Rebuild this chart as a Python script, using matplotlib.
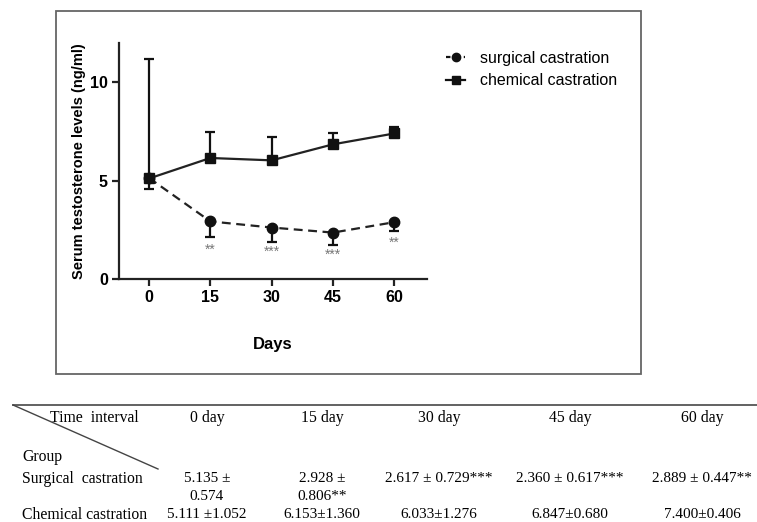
import numpy as np
import matplotlib.pyplot as plt
from matplotlib.patches import Rectangle
from matplotlib.lines import Line2D

days = [0, 15, 30, 45, 60]
surg_mean = [5.135, 2.928, 2.617, 2.360, 2.889]
surg_err = [0.574, 0.806, 0.729, 0.617, 0.447]     # drawn downward only
chem_mean = [5.111, 6.153, 6.033, 6.847, 7.400]
chem_err = [6.1, 1.30, 1.21, 0.60, 0.34]           # drawn upward only (as plotted)
stars = ['', '**', '***', '***', '**']
star_y = [None, 1.5, 1.38, 1.22, 1.84]

col_heads = ['0 day', '15 day', '30 day', '45 day', '60 day']
surg_cells = [['5.135 \u00b1', '0.574'], ['2.928 \u00b1', '0.806**'],
              ['2.617 \u00b1 0.729***'], ['2.360 \u00b1 0.617***'], ['2.889 \u00b1 0.447**']]
chem_cells = ['5.111 \u00b11.052', '6.153\u00b11.360', '6.033\u00b11.276',
              '6.847\u00b10.680', '7.400\u00b10.406']

W, H = 757, 522


def px(x, y):
    # pixel position -> figure fraction
    return x / W, 1 - y / H


plt.rcParams['font.family'] = ['Liberation Sans', 'DejaVu Sans']
fig = plt.figure(figsize=(W / 100, H / 100), dpi=100)

# outer frame around the chart
fig.patches.append(Rectangle(px(56, 374), 585 / W, 363 / H, transform=fig.transFigure,
                             fill=False, edgecolor='#666666', linewidth=1.3))

ax = fig.add_axes([119 / W, 1 - 279 / H, (427 - 119) / W, (279 - 43) / H])
for s in ['top', 'right']:
    ax.spines[s].set_visible(False)
for s in ['left', 'bottom']:
    ax.spines[s].set_linewidth(1.6)
    ax.spines[s].set_color('#222222')

zeros = np.zeros(len(days))
ax.errorbar(days, surg_mean, yerr=[surg_err, zeros], fmt='o', color='#111111',
            markersize=7.5, capsize=3.5, elinewidth=1.6, capthick=1.6, zorder=3)
ax.plot(days, surg_mean, '--', color='#222222', linewidth=1.6, dashes=(4, 2.5), zorder=2)
ax.errorbar(days, chem_mean, yerr=[zeros, chem_err], fmt='s', color='#111111',
            markersize=7.5, capsize=3.5, elinewidth=1.6, capthick=1.6, zorder=4)
ax.plot(days, chem_mean, '-', color='#222222', linewidth=1.6, zorder=2)

for d, st, sy in zip(days, stars, star_y):
    if st:
        ax.text(d, sy, st, ha='center', va='center', fontsize=10, color='#777777')

ax.set_xlim(-7.35, 68)
ax.set_ylim(0, 12)
ax.set_xticks(days)
ax.set_yticks([0, 5, 10])
ax.tick_params(direction='out', length=5, width=1.6, labelsize=11.5, color='#222222', pad=3)
for lab in ax.get_xticklabels() + ax.get_yticklabels():
    lab.set_fontweight('bold')
ax.set_ylabel('Serum testosterone levels (ng/ml)', fontsize=10.5, fontweight='bold')
ax.yaxis.set_label_coords(-0.107, 0.5)
ax.set_xlabel('Days', fontsize=12, fontweight='bold', labelpad=23)

handles = [Line2D([], [], color='#111111', linestyle='--', marker='o', markersize=6,
                  linewidth=1.6, dashes=(2, 2)),
           Line2D([], [], color='#111111', linestyle='-', marker='s', markersize=6, linewidth=1.6)]
fig.legend(handles, ['surgical castration', 'chemical castration'], loc='upper left',
           bbox_to_anchor=px(446, 51), frameon=False, fontsize=11.5, borderpad=0,
           borderaxespad=0, handlelength=1.2, handletextpad=0.9, labelspacing=0.45)

# table below the chart
serif = ['Liberation Serif', 'DejaVu Serif']
tfs = 11.3
fig.add_artist(Line2D([13 / W, 1], [1 - 405 / H, 1 - 405 / H], transform=fig.transFigure,
                      color='#555555', linewidth=1.3))
fig.add_artist(Line2D([13 / W, 158 / W], [1 - 405 / H, 1 - 469 / H], transform=fig.transFigure,
                      color='#444444', linewidth=1.0))
fig.text(*px(94, 418), 'Time  interval', ha='center', va='center', fontsize=tfs, family=serif)
fig.text(*px(22, 457), 'Group', ha='left', va='center', fontsize=tfs, family=serif)
fig.text(*px(22, 479), 'Surgical  castration', ha='left', va='center', fontsize=tfs, family=serif)
fig.text(*px(22, 515), 'Chemical castration', ha='left', va='center', fontsize=tfs, family=serif)

col_x = [207, 322, 439, 570, 702]
for cx, head, sc, cc in zip(col_x, col_heads, surg_cells, chem_cells):
    fig.text(*px(cx, 418), head, ha='center', va='center', fontsize=tfs, family=serif)
    for k, line in enumerate(sc):
        fig.text(*px(cx, 479 + 18 * k), line, ha='center', va='center', fontsize=tfs - 0.3,
                 family=serif)
    fig.text(*px(cx, 515), cc, ha='center', va='center', fontsize=tfs - 0.3, family=serif)

fig.savefig('out.png', dpi=100)
